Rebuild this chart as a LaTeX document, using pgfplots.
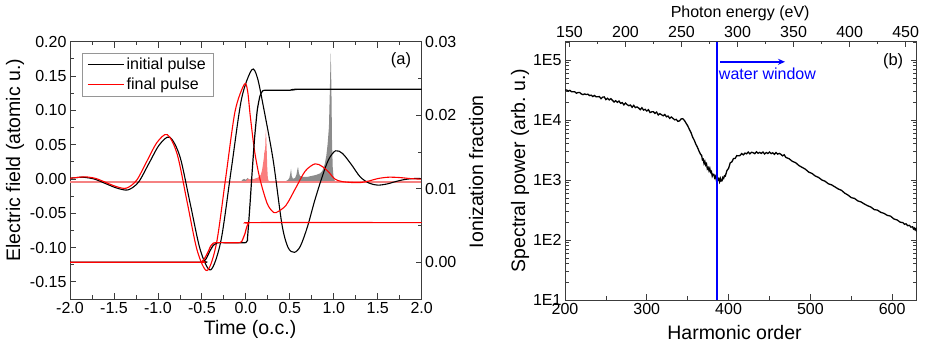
\documentclass[border=0pt]{standalone}
\usepackage{fontspec}
\setmainfont{Liberation Sans}
\usepackage{pgfplots}
\pgfplotsset{compat=1.18}
\usetikzlibrary{arrows.meta}

\definecolor{axisgray}{RGB}{60,60,60}
\definecolor{rategray}{RGB}{140,140,140}
\definecolor{ratered}{RGB}{250,125,125}
\definecolor{ratebase}{RGB}{245,130,130}
\definecolor{edgeblue}{RGB}{0,0,255}
\definecolor{legframe}{RGB}{150,150,150}

\pgfplotsset{
  panel/.style={
    scale only axis,
    axis line style={axisgray, line width=0.8pt},
    tick style={axisgray, line width=0.8pt},
    tick align=inside,
    major tick length=6pt,
    minor tick length=3.5pt,
    tick label style={font=\fontsize{16}{18}\selectfont},
    label style={font=\fontsize{19.5}{23}\selectfont},
    /pgf/number format/assume math mode=true,
    scaled ticks=false,
  },
  field/.style={line width=1.1pt, smooth},
  ionstep/.style={line width=1.2pt, smooth, tension=0.3},
}

\begin{document}
\begin{tikzpicture}
\useasboundingbox (0pt,0pt) rectangle (925pt,347pt);

% ---------------- (a) electric field ----------------
\begin{axis}[panel,
  at={(70pt,48pt)}, anchor=south west,
  width=351.7pt, height=257.3pt,
  xmin=-2, xmax=2, ymin=-0.175, ymax=0.2,
  axis y line*=left,
  xtick={-2,-1.5,-1,-0.5,0,0.5,1,1.5,2},
  minor x tick num=1,
  ytick={-0.15,-0.1,-0.05,0,0.05,0.1,0.15,0.2},
  minor y tick num=1,
  xticklabel style={/pgf/number format/.cd, fixed, fixed zerofill, precision=1},
  yticklabel style={/pgf/number format/.cd, fixed, fixed zerofill, precision=2},
  xlabel={Time (o.c.)},
  ylabel={Electric field (atomic u.)},
  xlabel style={at={(axis description cs:0.512,-0.12)}, anchor=center},
  ylabel style={at={(axis description cs:-0.156,0.54)}, anchor=center},
  legend style={at={(axis description cs:0.034,0.957)}, anchor=north west,
    draw=legframe, font=\fontsize{16}{18}\selectfont,
    inner xsep=5pt, inner ysep=3pt, row sep=3pt,
    /tikz/every even column/.append style={column sep=4pt}},
  legend cell align=left,
  legend image code/.code={\draw[#1] (0pt,0pt) -- (36pt,0pt);},
]
\addlegendimage{draw=black, line width=1.4pt}
\addlegendentry{initial pulse}
\addlegendimage{draw=red, line width=1.5pt}
\addlegendentry{final pulse}
% ionization rate, initial pulse
\addplot[draw=none, fill=rategray, forget plot] coordinates {
(-0.06,-0.0043) (-0.04,-0.0014) (-0.02,0.0001) (0.0,-0.0014) (0.02,0.0015)
(0.04,-0.0014) (0.06,0.0001) (0.08,-0.0014) (0.10,0.0001) (0.14,-0.0014)
(0.18,0.0001) (0.22,-0.0014) (0.26,-0.0028) (0.30,-0.0043)};
\addplot[draw=none, fill=rategray, forget plot] coordinates {
(0.44,-0.0043) (0.48,-0.0014) (0.495,0.0015) (0.505,0.0074) (0.514,0.0146)
(0.522,0.0044) (0.535,0.0001) (0.56,0.0015) (0.575,0.0059) (0.587,0.0146)
(0.594,0.0175) (0.603,0.0088) (0.615,0.0044) (0.65,0.0030) (0.70,0.0030)
(0.75,0.0044) (0.80,0.0059) (0.845,0.0081) (0.87,0.0117) (0.895,0.0205)
(0.915,0.0336) (0.93,0.0510) (0.945,0.0758) (0.955,0.1268) (0.962,0.1676)
(0.966,0.1836) (0.970,0.1559) (0.975,0.1122) (0.98,0.0540) (0.988,0.0175)
(0.996,0.0044) (1.006,-0.0014) (1.02,-0.0043)};
% ionization rate, final pulse
\addplot[draw=none, fill=ratered, forget plot] coordinates {
(0.0,-0.0043) (0.01,-0.0014) (0.03,0.0001) (0.05,-0.0014) (0.07,0.0001)
(0.09,-0.0007) (0.11,0.0008) (0.13,0.0015) (0.15,0.0030) (0.17,0.0059)
(0.185,0.0132) (0.195,0.0219) (0.205,0.0307) (0.212,0.0423) (0.218,0.0365)
(0.224,0.0612) (0.229,0.0714) (0.234,0.0540) (0.238,0.0394) (0.243,0.0175)
(0.25,0.0015) (0.258,-0.0028) (0.265,-0.0043)};
\addplot[draw=ratebase, line width=1.3pt, forget plot] coordinates {(-2,-0.0043) (2,-0.0043)};

% initial pulse
\addplot[field, draw=black, forget plot] coordinates {
(-2.0,0.001) (-1.92,0.002) (-1.85,0.0025) (-1.7225,-0.0002) (-1.595,-0.0068)
(-1.4675,-0.0133) (-1.34,-0.016) (-1.2215,-0.0048) (-1.103,0.0224) (-0.9845,0.0496)
(-0.866,0.0608) (-0.7495,0.0325) (-0.633,-0.0359) (-0.5165,-0.1042) (-0.40,-0.1325)
(-0.283,-0.0898) (-0.1665,0.0133) (-0.0497,0.1163) (0.067,0.159) (0.13,0.148)
(0.20,0.105) (0.31,0.028) (0.41,-0.066) (0.48,-0.100) (0.552,-0.107)
(0.62,-0.098) (0.70,-0.070) (0.78,-0.033) (0.86,0.000) (0.94,0.028)
(1.02,0.041) (1.10,0.037) (1.20,0.021) (1.30,0.003) (1.40,-0.006)
(1.50,-0.009) (1.60,-0.0075) (1.70,-0.004) (1.80,-0.001) (1.90,0.0005) (2.00,0.0005)};
% final pulse
\addplot[field, draw=red, forget plot] coordinates {
(-2.0,0.001) (-1.91,0.0022) (-1.82,0.003) (-1.705,0.0006) (-1.59,-0.0053)
(-1.475,-0.0111) (-1.36,-0.0135) (-1.243,-0.0021) (-1.1265,0.0256) (-1.01,0.0532)
(-0.893,0.0646) (-0.780,0.0356) (-0.6665,-0.0345) (-0.553,-0.1045) (-0.44,-0.1335)
(-0.334,-0.0938) (-0.2285,0.0023) (-0.123,0.0983) (-0.017,0.138) (0.02,0.128)
(0.05,0.092) (0.10,0.040) (0.16,0.000) (0.24,-0.035) (0.30,-0.047)
(0.345,-0.049) (0.4555,-0.0386) (0.566,-0.0135) (0.6765,0.0116) (0.787,0.022)
(0.87,0.018) (0.95,0.009) (1.01,0.000) (1.10,-0.004) (1.28,-0.0055)
(1.40,-0.003) (1.50,0.0005) (1.62,0.0025) (1.75,0.002) (1.87,0.0005) (2.00,-0.0004)};
\node[font=\fontsize{16.5}{19}\selectfont] at (axis description cs:0.941,0.927) {(a)};
\end{axis}

% ---------------- (a) ionization fraction ----------------
\begin{axis}[panel,
  at={(70pt,48pt)}, anchor=south west,
  width=351.7pt, height=257.3pt,
  xmin=-2, xmax=2, ymin=-0.005, ymax=0.03,
  axis y line*=right, axis x line=none,
  ytick={0,0.01,0.02,0.03},
  minor y tick num=1,
  yticklabel style={/pgf/number format/.cd, fixed, fixed zerofill, precision=2},
  ylabel={Ionization fraction},
  ylabel style={at={(axis description cs:1.155,0.495)}, anchor=center},
]
\addplot[ionstep, draw=black] coordinates {
(-2,0) (-0.50,0) (-0.48,0.0001) (-0.45,0.0005) (-0.41,0.0015) (-0.37,0.0023)
(-0.33,0.0026) (-0.30,0.00267) (0.0,0.00267) (0.02,0.0035) (0.045,0.0075)
(0.07,0.012) (0.10,0.017) (0.13,0.0207) (0.16,0.0226) (0.19,0.0233)
(0.23,0.0234) (0.50,0.0234) (0.56,0.02348) (0.62,0.02354) (2,0.02354)};
\addplot[ionstep, draw=red] coordinates {
(-2,0) (-0.52,0) (-0.50,0.0001) (-0.47,0.0005) (-0.43,0.0014) (-0.40,0.0022)
(-0.37,0.0026) (-0.34,0.00267) (-0.07,0.00267) (-0.04,0.0030) (-0.01,0.0039)
(0.01,0.0048) (0.03,0.0053) (0.06,0.00539) (2,0.00539)};
\end{axis}

% ---------------- (b) spectrum ----------------
\begin{axis}[panel,
  at={(565pt,47pt)}, anchor=south west,
  width=351.7pt, height=259pt,
  xmin=200, xmax=630, ymin=1, ymax=5.317,
  axis x line*=bottom,
  xtick={200,300,400,500,600},
  minor x tick num=1,
  ytick={1,2,3,4,5},
  yticklabels={1E1,1E2,1E3,1E4,1E5},
  minor ytick={1.301,1.477,1.602,1.699,1.778,1.845,1.903,1.954,
               2.301,2.477,2.602,2.699,2.778,2.845,2.903,2.954,
               3.301,3.477,3.602,3.699,3.778,3.845,3.903,3.954,
               4.301,4.477,4.602,4.699,4.778,4.845,4.903,4.954,5.301},
  xlabel={Harmonic order},
  ylabel={Spectral power (arb.\ u.)},
  xlabel style={at={(axis description cs:0.482,-0.124)}, anchor=center},
  ylabel style={at={(axis description cs:-0.128,0.5)}, anchor=center},
]
\addplot[draw=black, line width=1.3pt] table {
H lg
200 4.500
202 4.500
204 4.482
206 4.494
208 4.470
210 4.470
212 4.470
214 4.446
216 4.458
218 4.458
220 4.434
222 4.423
224 4.435
226 4.424
228 4.431
230 4.407
232 4.414
234 4.391
236 4.409
238 4.386
240 4.387
242 4.391
244 4.356
246 4.381
248 4.385
250 4.340
252 4.362
254 4.334
256 4.356
258 4.328
260 4.300
262 4.322
264 4.294
266 4.316
268 4.278
270 4.290
272 4.252
274 4.284
276 4.256
278 4.238
280 4.250
282 4.212
284 4.244
286 4.206
288 4.218
290 4.200
292 4.172
294 4.204
296 4.166
298 4.178
300 4.150
302 4.172
304 4.124
306 4.136
308 4.138
310 4.110
312 4.132
314 4.084
316 4.106
318 4.088
320 4.070
322 4.092
324 4.054
326 4.066
328 4.028
330 4.050
332 4.027
334 4.003
336 4.010
338 3.978
340 3.985
342 4.018
344 4.022
346 3.992
348 3.948
350 3.903
352 3.846
354 3.792
356 3.716
358 3.663
360 3.596
362 3.543
364 3.476
366 3.422
367 3.414
368 3.336
369 3.347
370 3.274
371 3.309
372 3.248
373 3.271
374 3.186
375 3.207
376 3.156
377 3.196
378 3.128
379 3.144
380 3.064
381 3.097
382 3.094
383 3.036
384 3.062
385 2.999
386 3.044
387 2.998
388 3.024
389 2.971
390 3.026
391 2.983
392 2.986
393 3.044
394 3.028
395 3.072
396 3.066
398 3.158
400 3.194
402 3.286
404 3.302
406 3.358
408 3.359
410 3.406
412 3.405
414 3.407
416 3.441
418 3.419
420 3.448
422 3.437
424 3.466
426 3.436
428 3.462
430 3.455
432 3.439
434 3.470
436 3.445
438 3.460
440 3.443
442 3.466
444 3.434
446 3.458
448 3.442
450 3.466
452 3.440
454 3.454
456 3.428
458 3.458
460 3.432
462 3.443
464 3.428
466 3.402
468 3.420
470 3.377
474 3.354
478 3.311
482 3.288
486 3.241
490 3.210
494 3.179
498 3.132
502 3.109
506 3.066
510 3.043
514 3.001
518 2.979
522 2.937
526 2.919
530 2.885
534 2.851
538 2.828
542 2.781
546 2.749
550 2.706
554 2.693
558 2.652
562 2.634
566 2.600
570 2.571
574 2.549
578 2.507
582 2.498
586 2.461
590 2.444
594 2.411
598 2.398
602 2.352
606 2.334
610 2.296
613 2.290
615 2.262
617 2.270
619 2.238
621 2.245
623 2.215
625 2.220
626 2.185
627 2.200
628 2.170
629 2.190
630 2.140
};
% water-window edge
\addplot[draw=edgeblue, line width=1.5pt] coordinates {(386,1) (386,5.317)};
\draw[draw=edgeblue, fill=edgeblue, line width=1.5pt, -{Stealth[length=7pt,width=6pt]}]
  (axis cs:389.5,4.97) -- (axis cs:469,4.97);
\node[text=edgeblue, anchor=west, font=\fontsize{16}{18}\selectfont, inner sep=0pt]
  at (axis cs:388,4.77) {water window};
\node[font=\fontsize{16.5}{19}\selectfont] at (axis description cs:0.933,0.923) {(b)};
\end{axis}

% ---------------- (b) photon energy scale ----------------
\begin{axis}[panel,
  at={(565pt,47pt)}, anchor=south west,
  width=351.7pt, height=259pt,
  xmin=146, xmax=459.9, ymin=0, ymax=1,
  axis x line*=top, axis y line=none,
  xtick={150,200,250,300,350,400,450},
  minor x tick num=1,
  xlabel={Photon energy (eV)},
  xlabel style={at={(axis description cs:0.498,1.107)}, anchor=center,
    font=\fontsize{16}{18}\selectfont},
]
\end{axis}
\end{tikzpicture}
\end{document}
